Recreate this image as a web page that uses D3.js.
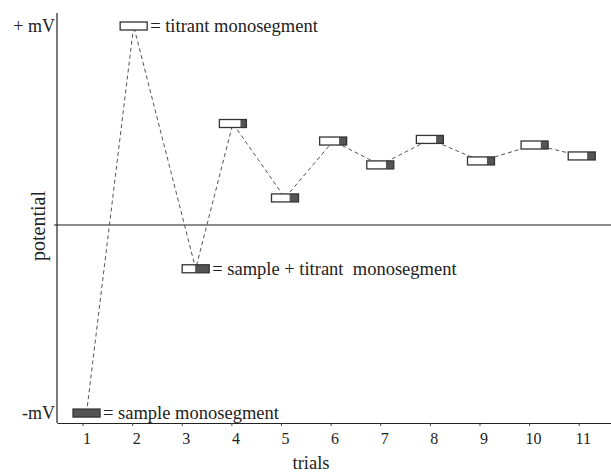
<!DOCTYPE html>
<html>
<head>
<meta charset="utf-8">
<script src="https://cdn.jsdelivr.net/npm/d3@7"></script>
<style>
  body { margin: 0; background: #fff; }
  svg { font-family: "Liberation Serif", "DejaVu Serif", serif; }
</style>
</head>
<body>
<svg id="chart"></svg>
<script>
// chart data
var trials = [1, 2, 3, 4, 5, 6, 7, 8, 9, 10, 11];
// where each marker sits along the trial axis (trial 3 is drawn a bit to the right)
var trialPos = [1, 1.95, 3.2, 3.95, 5, 5.97, 6.92, 7.92, 8.95, 10.03, 10.98];
// potential, arbitrary units (+100 = + mV)
var potential = [-94.5, 100, -22, 51, 13.6, 42.2, 30.2, 43, 32.2, 40.2, 34.7];
// share of sample in each monosegment (dark part of the box)
var sampleShare = [1, 0, 0.52, 0.22, 0.33, 0.28, 0.29, 0.27, 0.28, 0.27, 0.3];
var yTickVals = [100, -94.5];
var yTickLabels = ["+ mV", "-mV"];
var notes = ["= sample monosegment", "= titrant monosegment", "= sample + titrant  monosegment"];

var width = 611;
var height = 474;

var svg = d3.select('#chart')
    .attr("width", width)
    .attr("height", height);

var x = d3.scaleLinear().domain([0.405, 11.57]).range([57, 611]);
var y = d3.scaleLinear().domain([-100, 100]).range([424, 26]);

var boxW = 27, boxH = 8;

// zero line
svg.append("line")
    .attr("x1", x(0.405) - 3).attr("x2", x(11.57))
    .attr("y1", y(0)).attr("y2", y(0))
    .attr("stroke", "#666")
    .attr("stroke-width", 1.5);

// bottom axis
var xAxis = d3.axisBottom(x)
    .tickValues(trials)
    .tickSize(3)
    .tickSizeOuter(0)
    .tickFormat(d3.format("d"));
var gx = svg.append("g")
    .attr("transform", "translate(0," + 423 + ")")
    .call(xAxis);
gx.select(".domain").attr("stroke", "#222").attr("stroke-width", 1.2);
gx.selectAll(".tick line").attr("stroke", "#444").attr("transform", "translate(-4,0)");
gx.selectAll(".tick text")
    .attr("y", 10)
    .attr("dy", "0.71em")
    .attr("fill", "#222")
    .style("font-family", "Liberation Serif")
    .style("font-size", "16px");

// left axis line
svg.append("line")
    .attr("x1", 57).attr("x2", 57)
    .attr("y1", 13).attr("y2", 423)
    .attr("stroke", "#222")
    .attr("stroke-width", 1.2);

// y tick labels
svg.selectAll(".ylab")
    .data(yTickVals)
    .enter().append("text")
    .attr("class", "ylab")
    .attr("x", 55)
    .attr("y", d => y(d) + 6)
    .attr("text-anchor", "end")
    .attr("fill", "#222")
    .style("font-size", "18px")
    .text((d, i) => yTickLabels[i]);

// dashed path through the trials
var line = d3.line()
    .x((d, i) => x(trialPos[i]))
    .y(d => y(d));
svg.append("path")
    .datum(potential)
    .attr("d", line)
    .attr("fill", "none")
    .attr("stroke", "#555")
    .attr("stroke-width", 1)
    .attr("stroke-dasharray", "4,3");

// monosegment boxes
var box = svg.selectAll(".box")
    .data(potential)
    .enter().append("g")
    .attr("class", "box")
    .attr("transform", (d, i) => "translate(" + (x(trialPos[i]) - boxW / 2) + "," + (y(d) - boxH / 2) + ")");
box.append("rect")
    .attr("width", boxW).attr("height", boxH)
    .attr("fill", "#fff");
box.append("rect")
    .attr("x", (d, i) => boxW * (1 - sampleShare[i]))
    .attr("width", (d, i) => boxW * sampleShare[i])
    .attr("height", boxH)
    .attr("fill", "#555");
box.append("rect")
    .attr("width", boxW).attr("height", boxH)
    .attr("fill", "none")
    .attr("stroke", "#333")
    .attr("stroke-width", 1.3);

// notes beside the first three boxes
svg.selectAll(".note")
    .data(notes)
    .enter().append("text")
    .attr("class", "note")
    .attr("x", (d, i) => x(trialPos[i]) + boxW / 2 + 3)
    .attr("y", (d, i) => y(potential[i]) + 6)
    .attr("fill", "#222")
    .attr("xml:space", "preserve")
    .style("white-space", "pre")
    .style("font-size", "18.5px")
    .text(d => d);

// axis titles
svg.append("text")
    .attr("x", 311).attr("y", 469)
    .attr("text-anchor", "middle")
    .attr("fill", "#222")
    .style("font-size", "18.5px")
    .text("trials");
svg.append("text")
    .attr("transform", "translate(45,226) rotate(-90)")
    .attr("text-anchor", "middle")
    .attr("fill", "#222")
    .style("font-size", "20px")
    .text("potential");
</script>
</body>
</html>
